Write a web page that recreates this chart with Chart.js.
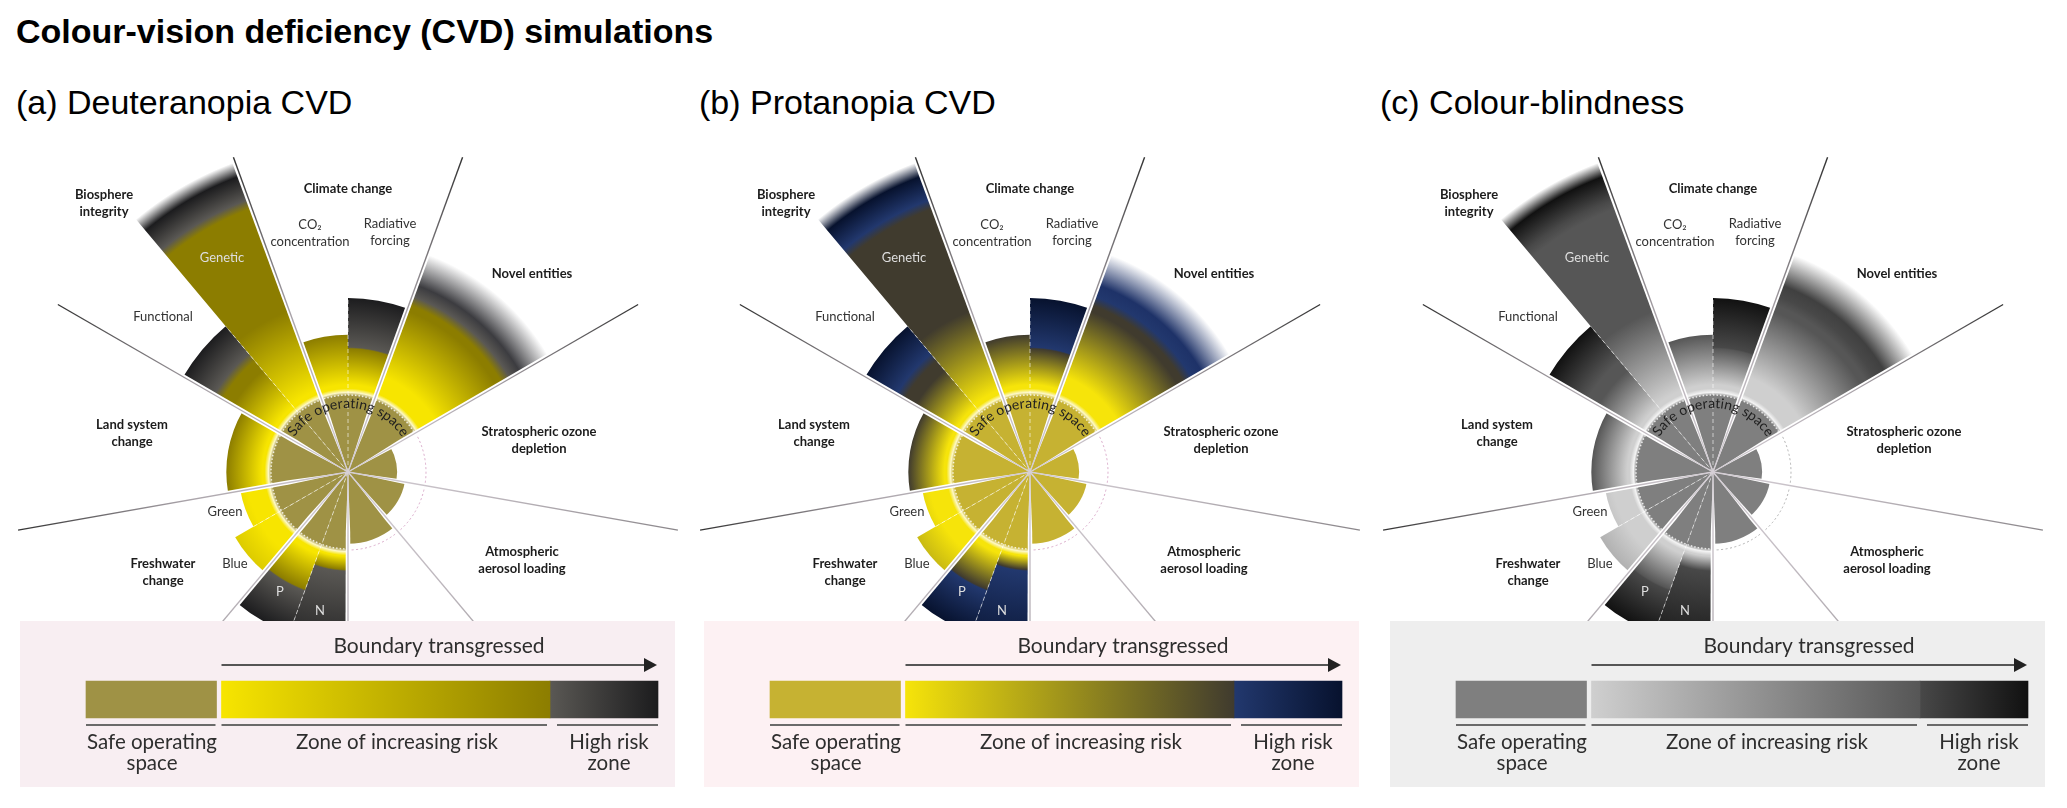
<!DOCTYPE html>
<html>
<head>
<meta charset="utf-8">
<title>Colour-vision deficiency (CVD) simulations</title>
<script src="https://cdn.jsdelivr.net/npm/chart.js@4/dist/chart.umd.min.js"></script>
<style>
  html, body { margin: 0; padding: 0; background: #fff; }
  body { position: relative; width: 2067px; height: 808px; overflow: hidden; font-family: "Liberation Sans", Arial, sans-serif; color: #000; }
  h1 { position: absolute; left: 16px; top: 12px; margin: 0; font-size: 34px; line-height: 38px; font-weight: bold; white-space: nowrap; }
  h2 { position: absolute; top: 82px; margin: 0; font-size: 34px; line-height: 40px; font-weight: normal; white-space: nowrap; }
  canvas { position: absolute; display: block; }
  .wheel { top: 137px; z-index: 1; }
  .legend-box { top: 621px; z-index: 2; }
</style>
</head>
<body>
<h1>Colour-vision deficiency (CVD) simulations</h1>
<h2 style="left:16px">(a) Deuteranopia CVD</h2>
<h2 style="left:699px">(b) Protanopia CVD</h2>
<h2 style="left:1380px">(c) Colour-blindness</h2>

<canvas id="wheel-a" class="wheel" style="left:13px"></canvas>
<canvas id="wheel-b" class="wheel" style="left:695px"></canvas>
<canvas id="wheel-c" class="wheel" style="left:1378px"></canvas>
<canvas id="legend-a" class="legend-box" style="left:20px;background:#f8eef2"></canvas>
<canvas id="legend-b" class="legend-box" style="left:704px;background:#fdf1f3"></canvas>
<canvas id="legend-c" class="legend-box" style="left:1390px;background:#eeeeee"></canvas>

<script>
// Sectors run clockwise from 340 degrees. Values are multiples of the safe boundary (boundary = 1)
const sectorNames = ["CO2", "Radiative forcing", "Novel entities", "Ozone", "Aerosol", "Ocean", "N", "P", "Blue", "Green", "Land system", "Functional", "Genetic"];
const sectorAngles = [20, 20, 40, 40, 40, 40, 20, 20, 20, 20, 40, 20, 20];
const sectorValues = [1.76, 2.23, 2.97, 0.63, 0.74, 0.92, 2.44, 2.2, 1.67, 1.4, 1.56, 2.44, 4.23];

// Where the risk colours change inside each sector, same units as sectorValues
const yellowEndValues = [1.12, 1.12, 1.3, null, null, null, 1.08, 1.12, 1.3, 1.3, 1.1, 1.1, 1.12];
const zoneEndValues = [1.76, 1.58, 2.2, null, null, null, 1.25, 1.6, 2.8, 2.8, 1.56, 1.7, 2.2];
const highStartValues = [null, 1.6, 2.4, null, null, null, 1.27, 1.62, null, null, null, 1.98, 3.72];
const highEndValues = [null, 2.23, null, null, null, null, 2.44, 2.2, null, null, null, 2.44, 4.04];
const fadeEndValues = [null, null, 2.97, null, null, null, null, null, null, null, null, null, 4.23];

// Legend bar ranges, in legend axis units
const safeRange = [66, 196.5];
const zoneRange = [201.5, 530];
const highRange = [530, 638];

const radialMax = 4.295;
const legendMax = 655;

// Spokes between the boundaries and dashed splits inside them
const spokeAngles = [20, 60, 100, 140, 180, 220, 260, 300, 340];
const spokeLengths = [335, 335, 335, 335, 300, 335, 335, 335, 335];
const splitAngles = [0, 200, 240, 320];
const splitLengths = [174, 190, 109, 190];

const palettes = {
  a: { safe: "#9f9245", glow: "#fdf8c8", start: "#f7e500", zoneEnd: "#8c7d00", highStart: "#5a5854", peak: "#3c3c40", highEnd: "#1c1c1e", ring: "#d8a8c8" },
  b: { safe: "#c6b232", glow: "#fdf8c8", start: "#f6e40a", zoneEnd: "#403b2e", highStart: "#22386e", peak: "#1e3268", highEnd: "#07122e", ring: "#d8a8c8" },
  c: { safe: "#7f7f7f", glow: "#f4f4f4", start: "#cfcfcf", zoneEnd: "#565656", highStart: "#484848", peak: "#404040", highEnd: "#111111", ring: "#b0b0b0" },
};

// Labels around the wheel: text lines, x/y offset from the centre, style
const wheelLabels = [
  { lines: ["Climate change"], x: 0, y: -283, bold: true },
  { lines: ["CO\u2082", "concentration"], x: -38, y: -247 },
  { lines: ["Radiative", "forcing"], x: 42, y: -248 },
  { lines: ["Biosphere", "integrity"], x: -244, y: -277, bold: true },
  { lines: ["Genetic"], x: -126, y: -214, color: "#dedede" },
  { lines: ["Functional"], x: -185, y: -155 },
  { lines: ["Land system", "change"], x: -216, y: -47, bold: true },
  { lines: ["Novel entities"], x: 184, y: -198, bold: true },
  { lines: ["Stratospheric ozone", "depletion"], x: 191, y: -40, bold: true },
  { lines: ["Atmospheric", "aerosol loading"], x: 174, y: 80, bold: true },
  { lines: ["Green"], x: -123, y: 40 },
  { lines: ["Blue"], x: -113, y: 92 },
  { lines: ["Freshwater", "change"], x: -185, y: 92, bold: true },
  { lines: ["P"], x: -68, y: 120, color: "#dedede" },
  { lines: ["N"], x: -28, y: 139, color: "#dedede" },
];

function polar(scale, degrees, radius) {
  const rad = (degrees - 90) * Math.PI / 180;
  return [scale.xCenter + Math.cos(rad) * radius, scale.yCenter + Math.sin(rad) * radius];
}

// Radial gradient for one sector, built from the scale so it follows the values
function sectorFill(context, palette) {
  const chart = context.chart;
  const scale = chart.scales.r;
  const i = context.dataIndex;
  if (!scale || !chart.chartArea || i === undefined) return palette.safe;
  if (sectorValues[i] <= 1) return palette.safe;

  const full = scale.getDistanceFromCenterForValue(radialMax);
  const g = chart.ctx.createRadialGradient(scale.xCenter, scale.yCenter, 0, scale.xCenter, scale.yCenter, full);
  const stop = (v, color) => g.addColorStop(Math.min(v / radialMax, 1), color);

  stop(0, palette.safe);
  stop(0.98, palette.safe);
  stop(1.02, palette.glow);
  stop(1.07, palette.start);
  stop(yellowEndValues[i], palette.start);
  stop(zoneEndValues[i], palette.zoneEnd);
  if (highStartValues[i] !== null) {
    // olive holds until shortly before the high risk colour comes in
    stop(Math.max(zoneEndValues[i], highStartValues[i] - 0.12), palette.zoneEnd);
    stop(highStartValues[i], palette.highStart);
    if (highEndValues[i] !== null) {
      stop(highEndValues[i], palette.highEnd);
    } else {
      stop(highStartValues[i] + 0.15, palette.peak);
    }
    if (fadeEndValues[i] !== null) stop(fadeEndValues[i], "#ffffff");
  }
  return g;
}

// Spokes, rings and labels that go on top of the sectors
const wheelDecor = {
  id: "wheelDecor",
  afterDatasetsDraw(chart, args, opts) {
    const { ctx } = chart;
    const scale = chart.scales.r;
    const boundary = scale.getDistanceFromCenterForValue(1);
    const cx = scale.xCenter;
    const cy = scale.yCenter;

    // dotted ring around the transgressed part, dashed where it is not reached
    const toRad = (d) => (d - 90) * Math.PI / 180;
    ctx.save();
    ctx.lineWidth = 1.5;
    ctx.strokeStyle = "rgba(255,255,255,0.8)";
    ctx.setLineDash([1.5, 2]);
    ctx.beginPath();
    ctx.arc(cx, cy, boundary - 1, toRad(180), toRad(420));
    ctx.stroke();
    ctx.lineWidth = 1;
    ctx.strokeStyle = opts.palette.ring;
    ctx.setLineDash([2, 2.5]);
    ctx.beginPath();
    ctx.arc(cx, cy, boundary, toRad(60), toRad(180));
    ctx.stroke();
    ctx.restore();

    // white dashed splits
    ctx.save();
    ctx.strokeStyle = "rgba(255,255,255,0.6)";
    ctx.lineWidth = 1;
    ctx.setLineDash([4, 3]);
    splitAngles.forEach((a, i) => {
      const [x, y] = polar(scale, a, splitLengths[i]);
      ctx.beginPath();
      ctx.moveTo(cx, cy);
      ctx.lineTo(x, y);
      ctx.stroke();
    });
    ctx.restore();

    // spokes: white gap with a thin line in it
    spokeAngles.forEach((a, i) => {
      const len = spokeLengths[i];
      const rad = toRad(a);
      const nx = -Math.sin(rad);
      const ny = Math.cos(rad);
      const [mx, my] = polar(scale, a, 60);
      const [ex, ey] = polar(scale, a, len);
      ctx.save();
      ctx.fillStyle = "#fff";
      ctx.beginPath();
      ctx.moveTo(cx, cy);
      ctx.lineTo(mx + nx * 2.2, my + ny * 2.2);
      ctx.lineTo(ex + nx * 3, ey + ny * 3);
      ctx.lineTo(ex - nx * 3, ey - ny * 3);
      ctx.lineTo(mx - nx * 2.2, my - ny * 2.2);
      ctx.closePath();
      ctx.fill();
      const line = ctx.createLinearGradient(cx, cy, ex, ey);
      const light = a >= 100 && a <= 220;
      line.addColorStop(0, "#d6cfd6");
      line.addColorStop(0.5, light ? "#b8b2b8" : "#a8a2a8");
      line.addColorStop(1, light ? "#8a868a" : "#333333");
      ctx.strokeStyle = line;
      ctx.lineWidth = 1.4;
      ctx.beginPath();
      ctx.moveTo(cx, cy);
      ctx.lineTo(ex, ey);
      ctx.stroke();
      ctx.restore();
    });

    // labels
    ctx.save();
    ctx.textAlign = "center";
    ctx.textBaseline = "middle";
    wheelLabels.forEach((label) => {
      ctx.font = (label.bold ? "bold " : "") + "13px Lato";
      ctx.fillStyle = label.color || (label.bold ? "#1c1c1c" : "#333333");
      label.lines.forEach((text, k) => {
        ctx.fillText(text, cx + label.x, cy + label.y + k * 17);
      });
    });

    // curved safe operating space text
    const curved = "Safe operating space";
    const textRadius = 64;
    ctx.font = "14px Lato";
    ctx.fillStyle = "#1f1f1f";
    const total = ctx.measureText(curved).width;
    let run = -total / 2;
    for (const ch of curved) {
      const w = ctx.measureText(ch).width;
      const angle = (run + w / 2) / textRadius;
      ctx.save();
      ctx.translate(cx + Math.sin(angle) * textRadius, cy - Math.cos(angle) * textRadius);
      ctx.rotate(angle);
      ctx.textBaseline = "alphabetic";
      ctx.fillText(ch, 0, 0);
      ctx.restore();
      run += w;
    }
    ctx.restore();
  },
};

function initWheel(id, palette) {
  const canvas = document.getElementById(id);
  canvas.width = 670;
  canvas.height = 670;
  return new Chart(canvas, {
    type: "polarArea",
    data: {
      labels: sectorNames,
      datasets: [
        {
          data: sectorValues,
          angle: (context) => sectorAngles[context.dataIndex],
          backgroundColor: (context) => sectorFill(context, palette),
          borderWidth: 0,
        },
      ],
    },
    options: {
      responsive: false,
      animation: false,
      devicePixelRatio: 1,
      events: [],
      scales: {
        r: { display: false, min: 0, max: radialMax, startAngle: 340 },
      },
      plugins: {
        legend: { display: false },
        tooltip: { enabled: false },
        wheelDecor: { palette: palette },
      },
    },
    plugins: [wheelDecor],
  });
}

// Horizontal gradient across a bar's own range
function barFill(context, from, to) {
  const chart = context.chart;
  const scale = chart.scales.x;
  const range = context.dataset.data[0];
  if (!scale || !chart.chartArea) return from;
  const g = chart.ctx.createLinearGradient(scale.getPixelForValue(range[0]), 0, scale.getPixelForValue(range[1]), 0);
  g.addColorStop(0, from);
  g.addColorStop(1, to);
  return g;
}

// Arrow, brackets and captions of the legend
const legendDecor = {
  id: "legendDecor",
  afterDatasetsDraw(chart) {
    const { ctx } = chart;
    const x = chart.scales.x;
    const px = (v) => x.getPixelForValue(v);
    ctx.save();
    ctx.strokeStyle = "#6a6a6a";
    ctx.lineWidth = 2.2;
    [[safeRange[0], safeRange[1] - 1], [zoneRange[0], zoneRange[1] - 3], [zoneRange[1] + 7, highRange[1]]].forEach((r) => {
      ctx.beginPath();
      ctx.moveTo(px(r[0]), 104);
      ctx.lineTo(px(r[1]), 104);
      ctx.stroke();
    });
    ctx.strokeStyle = "#555";
    ctx.beginPath();
    ctx.moveTo(px(zoneRange[0]), 44);
    ctx.lineTo(px(highRange[1]) - 10, 44);
    ctx.stroke();
    ctx.fillStyle = "#222";
    ctx.beginPath();
    ctx.moveTo(px(highRange[1]) - 14, 37);
    ctx.lineTo(px(highRange[1]) - 1, 44);
    ctx.lineTo(px(highRange[1]) - 14, 51);
    ctx.closePath();
    ctx.fill();

    ctx.fillStyle = "#2e2e2e";
    ctx.textAlign = "center";
    ctx.textBaseline = "middle";
    ctx.font = "21px Lato";
    ctx.fillText("Boundary transgressed", 419, 25);
    ctx.font = "20.5px Lato";
    ctx.fillText("Safe operating", 132, 121);
    ctx.fillText("space", 132, 142);
    ctx.fillText("Zone of increasing risk", 377, 121);
    ctx.fillText("High risk", 589, 121);
    ctx.fillText("zone", 589, 142);
    ctx.restore();
  },
};

function initLegend(id, palette) {
  const canvas = document.getElementById(id);
  canvas.width = 655;
  canvas.height = 166;
  return new Chart(canvas, {
    type: "bar",
    data: {
      labels: ["risk"],
      datasets: [
        { data: [safeRange], backgroundColor: palette.safe },
        { data: [zoneRange], backgroundColor: (c) => barFill(c, palette.start, palette.zoneEnd) },
        { data: [highRange], backgroundColor: (c) => barFill(c, palette.highStart, palette.highEnd) },
      ],
    },
    options: {
      indexAxis: "y",
      responsive: false,
      animation: false,
      devicePixelRatio: 1,
      events: [],
      layout: { padding: { bottom: 9 } },
      datasets: { bar: { grouped: false, barThickness: 37, borderWidth: 0 } },
      scales: {
        x: { display: false, min: 0, max: legendMax },
        y: { display: false },
      },
      plugins: {
        legend: { display: false },
        tooltip: { enabled: false },
      },
    },
    plugins: [legendDecor],
  });
}

document.addEventListener("DOMContentLoaded", () => {
  initWheel("wheel-a", palettes.a);
  initWheel("wheel-b", palettes.b);
  initWheel("wheel-c", palettes.c);
  initLegend("legend-a", palettes.a);
  initLegend("legend-b", palettes.b);
  initLegend("legend-c", palettes.c);
});
</script>
</body>
</html>
